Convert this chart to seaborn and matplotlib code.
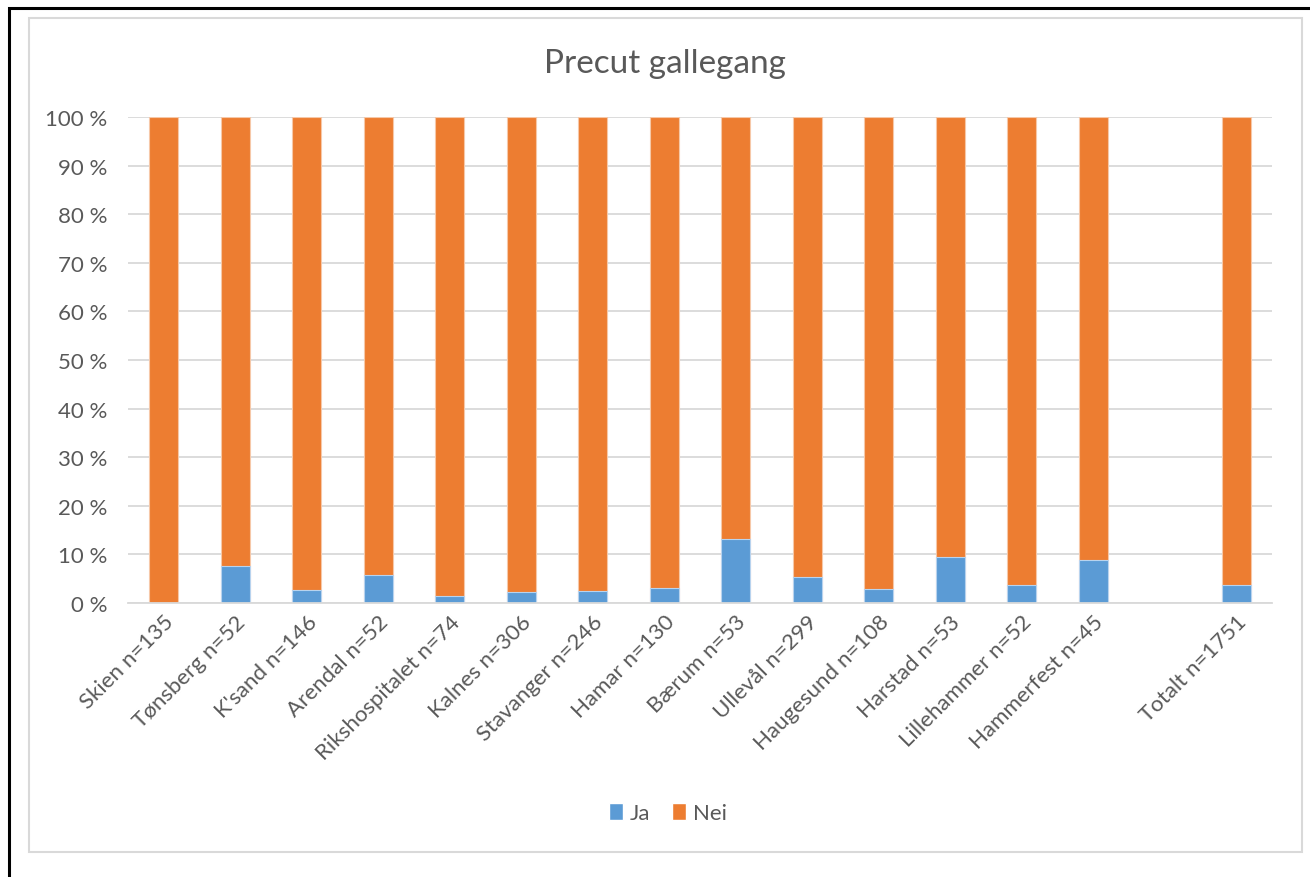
import numpy as np
import pandas as pd
import matplotlib
matplotlib.use("Agg")
import matplotlib.pyplot as plt
from matplotlib.patches import Rectangle, Patch
import seaborn as sns

# Share of ERCP procedures with precut, per hospital (percent)
hospitals = ["Skien n=135", "Tønsberg n=52", "K'sand n=146", "Arendal n=52",
             "Rikshospitalet n=74", "Kalnes n=306", "Stavanger n=246",
             "Hamar n=130", "Bærum n=53", "Ullevål n=299", "Haugesund n=108",
             "Harstad n=53", "Lillehammer n=52", "Hammerfest n=45", "",
             "Totalt n=1751"]
ja = [0.0, 7.7, 2.7, 5.8, 1.4, 2.3, 2.4, 3.1, 13.2, 5.4, 2.8, 9.4, 3.8, 8.9,
      np.nan, 3.8]
nei = [100.0, 92.3, 97.3, 94.2, 98.6, 97.7, 97.6, 96.9, 86.8, 94.6, 97.2,
       90.6, 96.2, 91.1, np.nan, 96.2]
yticks = list(range(0, 101, 10))

BLUE = "#5b9bd5"
ORANGE = "#ed7d31"
GRID = "#d9d9d9"
TEXT = "#595959"

sns.set_theme(style="white")
plt.rcParams["font.family"] = ["Lato", "DejaVu Sans"]

df = pd.DataFrame({"sykehus": hospitals, "Ja": ja, "Nei": nei})
df["total"] = df["Ja"] + df["Nei"]

fig = plt.figure(figsize=(13.10, 8.78), dpi=100)
ax = fig.add_axes([128 / 1310, 1 - 604 / 878, (1272 - 128) / 1310, (604 - 118) / 878])

# Stacked bars: full column in orange, "Ja" share drawn over it from the base
sns.barplot(data=df, x="sykehus", y="total", order=hospitals, color=ORANGE,
            width=0.40, edgecolor="#f6c8a8", linewidth=0.8, ax=ax,
            saturation=1, errorbar=None)
sns.barplot(data=df, x="sykehus", y="Ja", order=hospitals, color=BLUE,
            width=0.40, edgecolor="#b8d3ee", linewidth=0.8, ax=ax,
            saturation=1, errorbar=None)

ax.set_ylim(0, 100)
ax.set_xlim(-0.5, len(hospitals) - 0.5)
ax.set_yticks(yticks)
ax.set_yticklabels([f"{v} %" for v in yticks], fontsize=16, color=TEXT)
ax.set_xticks(range(len(hospitals)))
ax.set_xticklabels(hospitals, rotation=45, ha="right", rotation_mode="anchor",
                   fontsize=16, color=TEXT)
ax.tick_params(axis="y", length=0, pad=15)
ax.tick_params(axis="x", length=0, pad=6)
ax.set_xlabel("")
ax.set_ylabel("")
ax.yaxis.grid(True, color=GRID, linewidth=1.3)
ax.set_axisbelow(True)
for side in ["left", "right", "top"]:
    ax.spines[side].set_visible(False)
ax.spines["bottom"].set_color(GRID)
ax.spines["bottom"].set_linewidth(1.3)

fig.text(665 / 1310, 1 - 64 / 878, "Precut gallegang", ha="center", va="center",
         fontsize=24, color=TEXT)

handles = [Patch(facecolor=BLUE, label="Ja"), Patch(facecolor=ORANGE, label="Nei")]
fig.legend(handles=handles, loc="center", bbox_to_anchor=(668 / 1310, 1 - 814 / 878),
           ncol=2, frameon=False, fontsize=16, labelcolor=TEXT,
           handlelength=0.62, handleheight=0.85, handletextpad=0.3, columnspacing=1.0)

# Chart frame and outer border
fig.patches.append(Rectangle((29 / 1310, 1 - 853 / 878), (1302 - 29) / 1310,
                             (853 - 19) / 878, transform=fig.transFigure,
                             fill=False, edgecolor="#d9d9d9", linewidth=1.5))
fig.patches.append(Rectangle((9 / 1310, -0.05), 1.2, 1 - 9 / 878 + 0.05,
                             transform=fig.transFigure, fill=False,
                             edgecolor="black", linewidth=2.2))

fig.savefig("out.png", dpi=100)
